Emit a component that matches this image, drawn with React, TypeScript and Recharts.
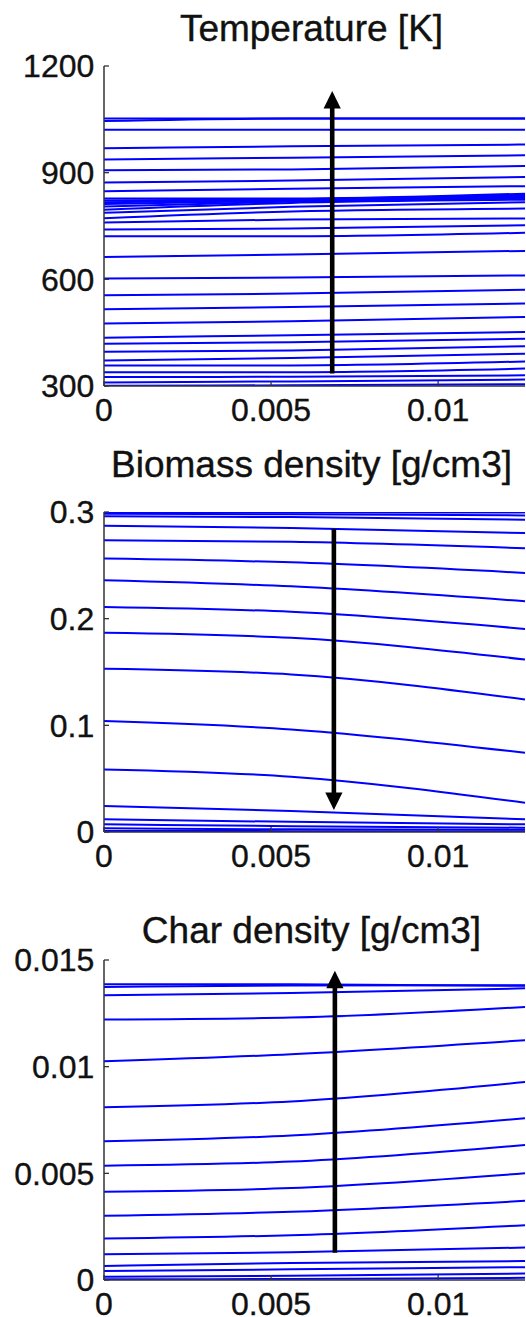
import React from 'react';
import { LineChart, Line, XAxis, YAxis, ReferenceLine } from 'recharts';

// x positions (m) at which each profile was read
const xPositions = [0, 0.0056, 0.0126];
const xTicks = [0, 0.005, 0.01];
const xDomainMax = 0.0126;

const temperatureTicks = [300, 600, 900, 1200];
const temperatureProfiles = [
  [301, 302, 305],
  [310, 313, 318],
  [325, 326, 330],
  [339, 339, 349],
  [358, 358, 369],
  [372, 379, 391],
  [396, 400, 412],
  [419, 423, 433],
  [436, 443, 452],
  [476, 482, 494],
  [516, 522, 532],
  [555, 560, 571],
  [602, 605, 611],
  [663, 670, 680],
  [721, 721, 731],
  [740, 743, 752],
  [760, 768, 771],
  [772, 791, 799],
  [787, 804, 817],
  [796, 815, 824],
  [805, 819, 828],
  [812, 821, 831],
  [817, 823, 834],
  [822, 825, 837],
  [827, 827, 841],
  [848, 855, 862],
  [872, 878, 888],
  [907, 909, 919],
  [937, 942, 949],
  [969, 974, 979],
  [1021, 1021, 1021],
  [1045, 1052, 1052],
  [1052, 1052, 1052],
];

const biomassTicks = [0, 0.1, 0.2, 0.3];
const biomassProfiles = [
  [0.2995, 0.2995, 0.2995],
  [0.2984, 0.2978, 0.2968],
  [0.2959, 0.2952, 0.2928],
  [0.2872, 0.285, 0.2803],
  [0.2734, 0.272, 0.266],
  [0.2563, 0.2528, 0.2429],
  [0.236, 0.2303, 0.2163],
  [0.211, 0.2064, 0.1904],
  [0.1867, 0.182, 0.1617],
  [0.153, 0.1477, 0.1243],
  [0.104, 0.0962, 0.0743],
  [0.0587, 0.0519, 0.0275],
  [0.0244, 0.0197, 0.0119],
  [0.0119, 0.0095, 0.0072],
  [0.0072, 0.0055, 0.004],
  [0.0035, 0.0025, 0.002],
  [0.001, 0.0008, 0.0005],
];

const charTicks = [0, 0.005, 0.01, 0.015];
const charProfiles = [
  [0.01386, 0.01386, 0.01379],
  [0.01374, 0.0138, 0.01382],
  [0.01335, 0.01345, 0.01367],
  [0.01221, 0.0123, 0.0128],
  [0.01025, 0.01058, 0.01124],
  [0.0081, 0.00837, 0.00928],
  [0.0065, 0.00677, 0.00758],
  [0.00536, 0.00555, 0.00633],
  [0.00414, 0.00431, 0.005],
  [0.00301, 0.0032, 0.00371],
  [0.00194, 0.0021, 0.00257],
  [0.00121, 0.0013, 0.00152],
  [0.00066, 0.0008, 0.00089],
  [0.00042, 0.0005, 0.0006],
  [0.00015, 0.0002, 0.0003],
  [0.00003, 0.00005, 0.0001],
];

const panelTitles = ['Temperature [K]', 'Biomass density [g/cm3]', 'Char density [g/cm3]'];
// arrows: x position, tail value, tip value (time direction)
const temperatureArrow = [0.00683, 335, 1130];
const biomassArrow = [0.00688, 0.284, 0.0206];
const charArrow = [0.00691, 0.00128, 0.0145];

const FONT = '"Liberation Sans", Arial, Helvetica, sans-serif';
const AXIS_COLOR = '#333';
const LINE_COLOR = '#0000ff';
const TEXT_COLOR = '#111';

const buildRows = (profiles: number[][]) =>
  xPositions.map((x, i) => {
    const row: Record<string, number> = { x };
    profiles.forEach((p, j) => {
      row['p' + j] = p[i];
    });
    return row;
  });

const ArrowShape = (props: any) => {
  const { x1, y1, x2, y2 } = props;
  const dir = y2 > y1 ? 1 : -1;
  const headLen = 17.5;
  const headHalf = 8.6;
  const baseY = y2 - dir * headLen;
  return (
    <g>
      <line x1={x1} y1={y1} x2={x2} y2={baseY + dir * 1} stroke="#000" strokeWidth={4.6} />
      <polygon points={`${x2},${y2} ${x2 - headHalf},${baseY} ${x2 + headHalf},${baseY}`} fill="#000" />
    </g>
  );
};

const tickStyle = {
  fontFamily: FONT,
  fontSize: 32,
  fill: TEXT_COLOR,
  stroke: TEXT_COLOR,
  strokeWidth: 0.35,
};

type PanelProps = {
  top: number;
  profiles: number[][];
  yTicks: number[];
  arrow: number[];
};

const Panel = ({ top, profiles, yTicks, arrow }: PanelProps) => {
  const rows = buildRows(profiles);
  const yDomain = [yTicks[0], yTicks[yTicks.length - 1]];
  return (
    <div style={{ position: 'absolute', left: 0, top }}>
      <LineChart width={526} height={440} data={rows} margin={{ top: 60, right: 1, left: 8, bottom: 20 }}>
        <XAxis
          dataKey="x"
          type="number"
          domain={[0, xDomainMax]}
          allowDataOverflow
          ticks={xTicks}
          interval={0}
          height={40}
          tickSize={-5}
          tickMargin={17.3}
          tick={tickStyle}
          stroke={AXIS_COLOR}
          axisLine={{ stroke: AXIS_COLOR, strokeWidth: 1.5 }}
          tickLine={{ stroke: AXIS_COLOR, strokeWidth: 1.3 }}
        />
        <XAxis
          xAxisId="t"
          orientation="top"
          dataKey="x"
          type="number"
          domain={[0, xDomainMax]}
          allowDataOverflow
          ticks={xTicks}
          interval={0}
          height={0}
          tickSize={-5}
          tick={false}
          axisLine={{ stroke: AXIS_COLOR, strokeWidth: 1.5 }}
          tickLine={{ stroke: AXIS_COLOR, strokeWidth: 1.3 }}
        />
        <YAxis
          type="number"
          domain={yDomain}
          allowDataOverflow
          ticks={yTicks}
          interval={0}
          width={96}
          tickSize={-5}
          tickMargin={14.7}
          tick={tickStyle}
          axisLine={{ stroke: AXIS_COLOR, strokeWidth: 1.5 }}
          tickLine={{ stroke: AXIS_COLOR, strokeWidth: 1.3 }}
        />
        <YAxis
          yAxisId="r"
          orientation="right"
          type="number"
          domain={yDomain}
          allowDataOverflow
          ticks={yTicks}
          interval={0}
          width={0}
          tickSize={-5}
          tick={false}
          axisLine={{ stroke: AXIS_COLOR, strokeWidth: 1.5 }}
          tickLine={{ stroke: AXIS_COLOR, strokeWidth: 1.3 }}
        />
        {profiles.map((_, j) => (
          <Line
            key={j}
            dataKey={'p' + j}
            type="monotone"
            stroke={LINE_COLOR}
            strokeWidth={2}
            dot={false}
            activeDot={false}
            isAnimationActive={false}
          />
        ))}
        <ReferenceLine
          segment={[
            { x: arrow[0], y: arrow[1] },
            { x: arrow[0], y: arrow[2] },
          ]}
          shape={ArrowShape}
          ifOverflow="visible"
        />
      </LineChart>
    </div>
  );
};

const titleBaselines = [40.7, 477.3, 942.5];

export default function App() {
  return (
    <div
      style={{
        position: 'fixed',
        left: 0,
        top: 0,
        width: 526,
        height: 1317,
        overflow: 'hidden',
        background: '#fff',
      }}
    >
      <Panel top={6} profiles={temperatureProfiles} yTicks={temperatureTicks} arrow={temperatureArrow} />
      <Panel top={452} profiles={biomassProfiles} yTicks={biomassTicks} arrow={biomassArrow} />
      <Panel top={899.5} profiles={charProfiles} yTicks={charTicks} arrow={charArrow} />
      <svg width={526} height={1317} style={{ position: 'absolute', left: 0, top: 0, pointerEvents: 'none' }}>
        {panelTitles.map((t, i) => (
          <text
            key={t}
            x={311.5}
            y={titleBaselines[i]}
            textAnchor="middle"
            fontFamily={FONT}
            fontSize={37}
            fill={TEXT_COLOR}
            stroke={TEXT_COLOR}
            strokeWidth={0.4}
          >
            {t}
          </text>
        ))}
      </svg>
    </div>
  );
}
